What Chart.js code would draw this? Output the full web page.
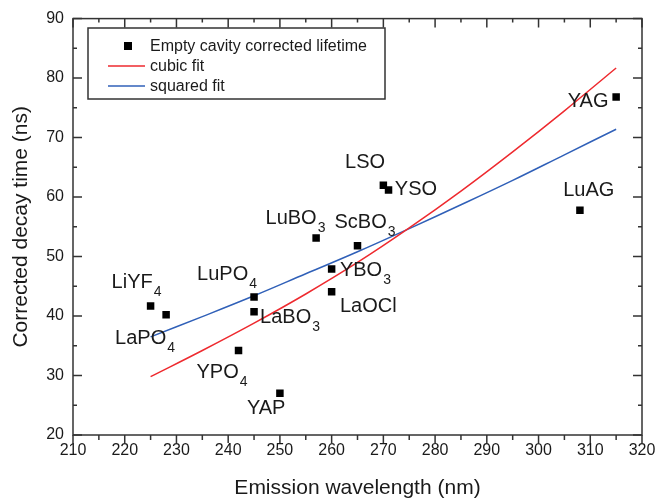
<!DOCTYPE html>
<html>
<head>
<meta charset="utf-8">
<script src="https://cdn.jsdelivr.net/npm/chart.js@4.4.1/dist/chart.umd.min.js"></script>
<style>
  html, body { margin: 0; padding: 0; background: #fff; }
  #wrap { width: 669px; height: 503px; }
</style>
</head>
<body>
<div id="wrap"><canvas id="decay" width="669" height="503"></canvas></div>
<script>
// measured hosts
const hosts = ["LiYF4", "LaPO4", "LuPO4", "LaBO3", "YPO4", "YAP", "LuBO3", "ScBO3",
               "YBO3", "LaOCl", "LSO", "YSO", "LuAG", "YAG"];
const wavelength = [225, 228, 245, 245, 242, 250, 257, 265, 260, 260, 270, 271, 308, 315];
const lifetime = [41.7, 40.2, 43.2, 40.7, 34.2, 27.0, 53.1, 51.8, 47.9, 44.1, 62.0, 61.2, 57.8, 76.8];

// fit curves
const fitWavelength = [225, 235, 245, 255, 265, 275, 285, 295, 305, 315];
const cubicFit = [29.8, 34.2, 38.8, 43.7, 49.0, 54.8, 61.0, 67.6, 74.5, 81.7];
const squaredFit = [36.5, 39.9, 43.4, 47.1, 50.8, 54.7, 58.7, 62.8, 67.1, 71.4];

const xTicks = [210, 220, 230, 240, 250, 260, 270, 280, 290, 300, 310, 320];
const yTicks = [20, 30, 40, 50, 60, 70, 80, 90];

// where each host name sits relative to its marker (px)
const labelOffset = {
  LiYF4: [-39, -17.6], LaPO4: [-51, 29.4], LuPO4: [-57, -17.4], LaBO3: [6, 11.6],
  YPO4: [-42, 27.4], YAP: [-33, 20.6], LuBO3: [-50.6, -14], ScBO3: [-23, -17.7],
  YBO3: [8.3, 6.7], LaOCl: [8.3, 20], LSO: [-38.3, -17.3], YSO: [6.3, 4.7],
  LuAG: [-16.7, -14.4], YAG: [-48.4, 9.4]
};

const FONT = "'Liberation Sans', Arial, sans-serif";
const INK = "#1a1a1a";
const FRAME = "#333";
const RED = "#ee2a2f";
const BLUE = "#3060b8";

const pts = wavelength.map((w, i) => ({ x: w, y: lifetime[i] }));
const cubicPts = fitWavelength.map((w, i) => ({ x: w, y: cubicFit[i] }));
const squaredPts = fitWavelength.map((w, i) => ({ x: w, y: squaredFit[i] }));

// frame + ticks: inward on left/top/right, outward on bottom, minors every 5
const frameTicks = {
  id: "frameTicks",
  afterDraw(chart) {
    const { ctx, chartArea: a, scales: { x, y } } = chart;
    ctx.save();
    ctx.strokeStyle = FRAME;
    ctx.lineWidth = 1.5;
    ctx.strokeRect(a.left, a.top, a.right - a.left, a.bottom - a.top);
    ctx.beginPath();
    for (let v = x.min; v <= x.max; v += 5) {
      const px = x.getPixelForValue(v);
      const major = v % 10 === 0;
      ctx.moveTo(px, a.bottom);
      ctx.lineTo(px, a.bottom + (major ? 8 : 5));
      ctx.moveTo(px, a.top);
      ctx.lineTo(px, a.top + (major ? 9 : 4));
    }
    for (let v = y.min; v <= y.max; v += 5) {
      const py = y.getPixelForValue(v);
      const major = v % 10 === 0;
      ctx.moveTo(a.left, py);
      ctx.lineTo(a.left + (major ? 9 : 4), py);
      ctx.moveTo(a.right, py);
      ctx.lineTo(a.right - (major ? 9 : 4), py);
    }
    ctx.stroke();
    ctx.restore();
  }
};

// host names with subscripted digits
const hostLabels = {
  id: "hostLabels",
  afterDatasetsDraw(chart) {
    const { ctx, scales: { x, y } } = chart;
    ctx.save();
    ctx.fillStyle = INK;
    ctx.textBaseline = "alphabetic";
    ctx.textAlign = "left";
    hosts.forEach((name, i) => {
      const m = name.match(/^(.*?)(\d+)$/);
      const main = m ? m[1] : name;
      const sub = m ? m[2] : "";
      const off = labelOffset[name] || [6, -6];
      const tx = x.getPixelForValue(wavelength[i]) + off[0];
      const ty = y.getPixelForValue(lifetime[i]) + off[1];
      ctx.font = "20px " + FONT;
      ctx.fillText(main, tx, ty);
      if (sub) {
        const w = ctx.measureText(main).width;
        ctx.font = "14px " + FONT;
        ctx.fillText(sub, tx + w + 1, ty + 8);
      }
    });
    ctx.restore();
  }
};

// boxed legend in the upper left of the plot
const boxLegend = {
  id: "boxLegend",
  afterDraw(chart) {
    const { ctx } = chart;
    const ds = chart.data.datasets;
    ctx.save();
    ctx.fillStyle = "#fff";
    ctx.fillRect(88, 28, 297, 71);
    ctx.strokeStyle = FRAME;
    ctx.lineWidth = 1.5;
    ctx.strokeRect(88, 28, 297, 71);
    ctx.font = "16px " + FONT;
    ctx.textBaseline = "middle";
    ds.forEach((d, i) => {
      const cy = 46 + i * 20;
      if (d.showLine) {
        ctx.strokeStyle = d.borderColor;
        ctx.lineWidth = 1.5;
        ctx.beginPath();
        ctx.moveTo(108, cy);
        ctx.lineTo(145, cy);
        ctx.stroke();
      } else {
        ctx.fillStyle = d.backgroundColor;
        ctx.fillRect(124, cy - 4, 8, 8);
      }
      ctx.fillStyle = INK;
      ctx.fillText(d.label, 150, cy + 1);
    });
    ctx.restore();
  }
};

new Chart(document.getElementById("decay"), {
  type: "scatter",
  data: {
    datasets: [
      {
        label: "Empty cavity corrected lifetime",
        data: pts,
        pointStyle: "rect",
        pointRadius: 5.3,
        backgroundColor: "#000",
        borderColor: "#000",
        borderWidth: 0,
        showLine: false
      },
      {
        label: "cubic fit",
        data: cubicPts,
        showLine: true,
        borderColor: RED,
        backgroundColor: RED,
        borderWidth: 1.5,
        pointRadius: 0,
        tension: 0.4
      },
      {
        label: "squared fit",
        data: squaredPts,
        showLine: true,
        borderColor: BLUE,
        backgroundColor: BLUE,
        borderWidth: 1.5,
        pointRadius: 0,
        tension: 0.4
      }
    ]
  },
  options: {
    responsive: false,
    animation: false,
    devicePixelRatio: 1,
    layout: { padding: { top: 14, right: 27, left: 0, bottom: 0 } },
    plugins: { legend: { display: false }, tooltip: { enabled: false } },
    scales: {
      x: {
        type: "linear",
        min: 210,
        max: 320,
        afterFit: s => { s.height = 68; },
        afterBuildTicks: s => { s.ticks = xTicks.map(v => ({ value: v })); },
        grid: { display: false, drawTicks: false },
        border: { display: false },
        ticks: { padding: 6, color: INK, font: { family: FONT, size: 16 }, maxRotation: 0 },
        title: {
          display: true,
          text: "Emission wavelength (nm)",
          color: INK,
          font: { family: FONT, size: 21 },
          padding: { top: 0, bottom: 2 }
        }
      },
      y: {
        type: "linear",
        min: 20,
        max: 90,
        afterFit: s => { s.width = 73; },
        afterBuildTicks: s => { s.ticks = yTicks.map(v => ({ value: v })); },
        grid: { display: false, drawTicks: false },
        border: { display: false },
        ticks: { padding: 9, color: INK, font: { family: FONT, size: 16 } },
        title: {
          display: true,
          text: "Corrected decay time (ns)",
          color: INK,
          font: { family: FONT, size: 21 },
          padding: { top: 9, bottom: 0 }
        }
      }
    }
  },
  plugins: [frameTicks, hostLabels, boxLegend]
});
</script>
</body>
</html>
